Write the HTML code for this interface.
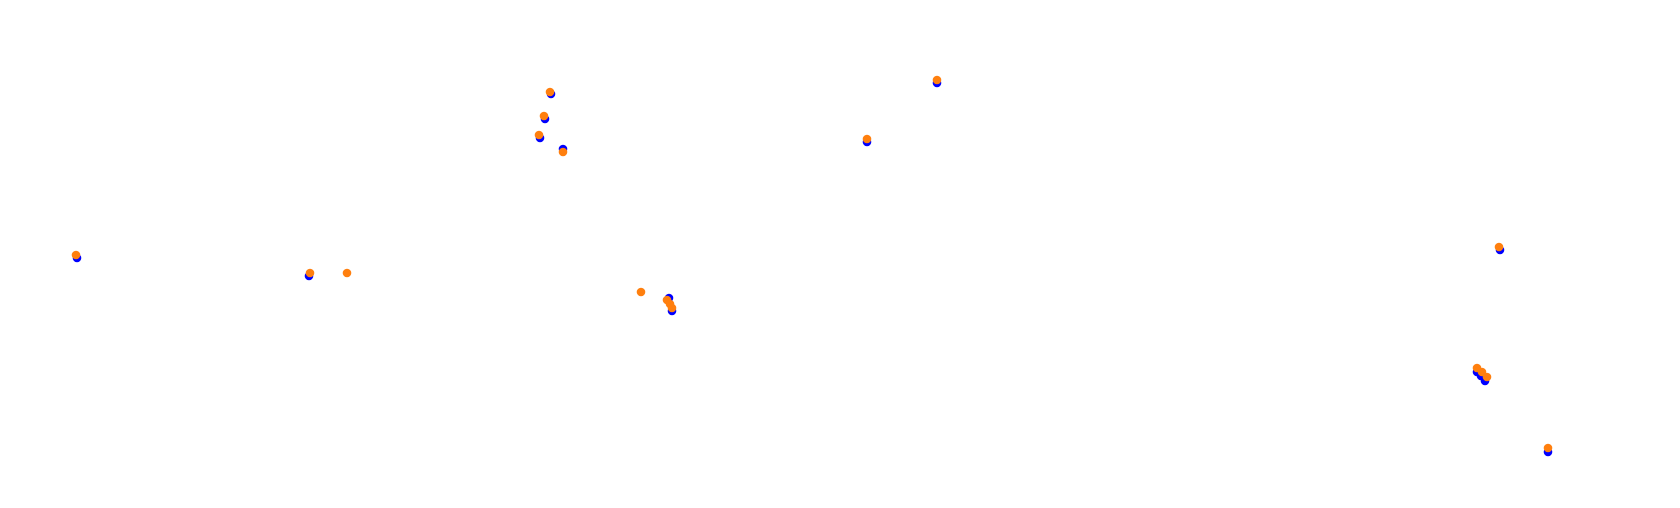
<!DOCTYPE html>
<html><head><meta charset="utf-8"><style>html,body{margin:0;padding:0;background:#fff}svg{display:block}</style></head>
<body>
<svg width="1680" height="508" viewBox="0 0 1680 508" xmlns="http://www.w3.org/2000/svg">
<g fill="#0000ff">
<circle cx="77" cy="258" r="4.3"/>
<circle cx="309" cy="276" r="4.3"/>
<circle cx="551" cy="94" r="4.3"/>
<circle cx="545" cy="119" r="4.3"/>
<circle cx="540" cy="138" r="4.3"/>
<circle cx="563" cy="149" r="4.3"/>
<circle cx="669" cy="298" r="4.3"/>
<circle cx="672" cy="311" r="4.3"/>
<circle cx="867" cy="142" r="4.3"/>
<circle cx="937" cy="83" r="4.3"/>
<circle cx="1500" cy="250" r="4.3"/>
<circle cx="1477" cy="372" r="4.3"/>
<circle cx="1481" cy="376" r="4.3"/>
<circle cx="1485" cy="381" r="4.3"/>
<circle cx="1548" cy="452" r="4.3"/>
</g>
<g fill="#ff7f0e">
<circle cx="76" cy="255" r="4.3"/>
<circle cx="310" cy="273" r="4.3"/>
<circle cx="347" cy="273" r="4.3"/>
<circle cx="550" cy="92" r="4.3"/>
<circle cx="544" cy="116" r="4.3"/>
<circle cx="539" cy="135" r="4.3"/>
<circle cx="563" cy="152" r="4.3"/>
<circle cx="641" cy="292" r="4.3"/>
<circle cx="667" cy="300" r="4.3"/>
<circle cx="670" cy="304" r="4.3"/>
<circle cx="672" cy="308" r="4.3"/>
<circle cx="867" cy="139" r="4.3"/>
<circle cx="937" cy="80" r="4.3"/>
<circle cx="1499" cy="247" r="4.3"/>
<circle cx="1477" cy="368" r="4.3"/>
<circle cx="1482" cy="372" r="4.3"/>
<circle cx="1487" cy="377" r="4.3"/>
<circle cx="1548" cy="448" r="4.3"/>
</g>
</svg>
</body></html>
